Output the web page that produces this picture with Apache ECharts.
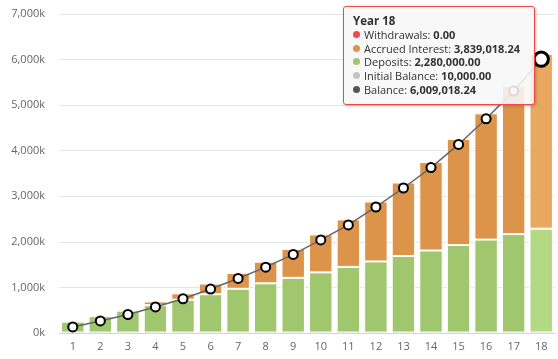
<!DOCTYPE html>
<html>
<head>
<meta charset="utf-8">
<script src="https://cdn.jsdelivr.net/npm/echarts@6/dist/echarts.min.js"></script>
<style>
html,body{margin:0;padding:0;background:#fff;}
#chart{width:558px;height:359px;}
</style>
</head>
<body>
<div id="chart"></div>
<script>
const years = ['1','2','3','4','5','6','7','8','9','10','11','12','13','14','15','16','17','18'];
const withdrawals = [0,0,0,0,0,0,0,0,0,0,0,0,0,0,0,0,0,0];
const interest = [4000,15000,36000,82000,140000,235000,347000,475000,635000,832000,1042000,1315000,1612000,1940000,2328000,2770000,3258000,3839018.24];
const deposits = [240000,360000,480000,600000,720000,840000,960000,1080000,1200000,1320000,1440000,1560000,1680000,1800000,1920000,2040000,2160000,2280000];
const initialBalance = [10000,10000,10000,10000,10000,10000,10000,10000,10000,10000,10000,10000,10000,10000,10000,10000,10000,10000];
const balance = [134000,265000,406000,572000,750000,965000,1197000,1445000,1725000,2042000,2372000,2765000,3182000,3630000,4138000,4700000,5308000,6009018.24];
const yTicks = [0,1000000,2000000,3000000,4000000,5000000,6000000,7000000];

const hoverIndex = 17;
const C = {
  withdrawals: '#f24a4a',
  interest: '#dc944a',
  interestHover: '#e9a860',
  deposits: '#a0c66e',
  depositsHover: '#b3d985',
  initial: '#c4c4c4',
  balance: '#555555'
};
const FONT = "'Open Sans', sans-serif";

function barData(arr, hoverColor) {
  return arr.map((v, i) => i === hoverIndex && hoverColor ? {value: v, itemStyle: {color: hoverColor}} : v);
}
function fmt(v) {
  return v.toLocaleString('en-US', {minimumFractionDigits: 2, maximumFractionDigits: 2});
}
function dot(c) {
  return '<span style="display:inline-block;width:7px;height:7px;border-radius:50%;background:' + c + ';margin-right:4px;vertical-align:1px;"></span>';
}

const chart = echarts.init(document.getElementById('chart'), null, {renderer: 'canvas'});
const option = {
  animation: false,
  textStyle: {fontFamily: FONT},
  grid: {left: 59, right: 3, top: 14, bottom: 26, containLabel: false},
  tooltip: {
    trigger: 'axis',
    triggerOn: 'none',
    alwaysShowContent: true,
    transitionDuration: 0,
    axisPointer: {type: 'none'},
    position: [343, 6],
    backgroundColor: 'rgba(247,247,247,0.88)',
    borderColor: '#f04848',
    borderWidth: 1,
    padding: [7, 14, 7, 9],
    extraCssText: 'box-shadow:1px 1px 3px rgba(0,0,0,0.25);border-radius:3px;',
    textStyle: {fontFamily: FONT, fontSize: 11, color: '#333'},
    formatter: function (params) {
      const i = params[0].dataIndex;
      const rows = [
        ['Withdrawals', C.withdrawals, withdrawals[i]],
        ['Accrued Interest', C.interest, interest[i]],
        ['Deposits', C.deposits, deposits[i]],
        ['Initial Balance', C.initial, initialBalance[i]],
        ['Balance', C.balance, balance[i]]
      ];
      let h = '<div style="line-height:13.8px;font-family:' + FONT + ';font-size:11px;color:#333;">';
      h += '<div style="font-weight:bold;font-size:11.5px;">Year ' + years[i] + '</div>';
      rows.forEach(r => {
        h += '<div>' + dot(r[1]) + r[0] + ': <b>' + fmt(r[2]) + '</b></div>';
      });
      h += '</div>';
      return h;
    }
  },
  xAxis: {
    type: 'category',
    data: years,
    axisLine: {lineStyle: {color: '#ccd6eb'}},
    axisTick: {show: false},
    axisLabel: {color: '#666', fontSize: 11, margin: 8, fontFamily: FONT}
  },
  yAxis: {
    type: 'value',
    min: yTicks[0],
    max: yTicks[yTicks.length - 1],
    interval: 1000000,
    axisLine: {show: false},
    axisTick: {show: false},
    splitLine: {lineStyle: {color: '#e6e6e6'}},
    axisLabel: {
      color: '#666', fontSize: 11, margin: 14, fontFamily: FONT,
      formatter: v => (v / 1000).toLocaleString('en-US') + 'k'
    }
  },
  series: [
    {
      name: 'Initial Balance', type: 'bar', stack: 'total', barCategoryGap: '15%',
      data: initialBalance, itemStyle: {color: C.initial}, emphasis: {disabled: true}
    },
    {
      name: 'Deposits', type: 'bar', stack: 'total',
      data: barData(deposits, C.depositsHover),
      itemStyle: {color: C.deposits, borderColor: '#fff', borderWidth: 1},
      emphasis: {disabled: true}
    },
    {
      name: 'Accrued Interest', type: 'bar', stack: 'total',
      data: barData(interest, C.interestHover),
      itemStyle: {color: C.interest, borderColor: '#fff', borderWidth: 1},
      emphasis: {disabled: true}
    },
    {
      name: 'Withdrawals', type: 'bar', stack: 'total',
      data: withdrawals, itemStyle: {color: C.withdrawals}, emphasis: {disabled: true}
    },
    {
      name: 'Balance', type: 'line', z: 5,
      data: balance.map((v, i) => i === hoverIndex ? {value: v, symbolSize: 13, itemStyle: {borderWidth: 3}} : v),
      symbol: 'circle', symbolSize: 9, showAllSymbol: true,
      lineStyle: {color: '#666', width: 1.5},
      itemStyle: {color: '#fff', borderColor: '#000', borderWidth: 2},
      emphasis: {disabled: true}
    }
  ]
};
chart.setOption(option);
chart.dispatchAction({type: 'showTip', seriesIndex: 4, dataIndex: hoverIndex});
</script>
</body>
</html>
